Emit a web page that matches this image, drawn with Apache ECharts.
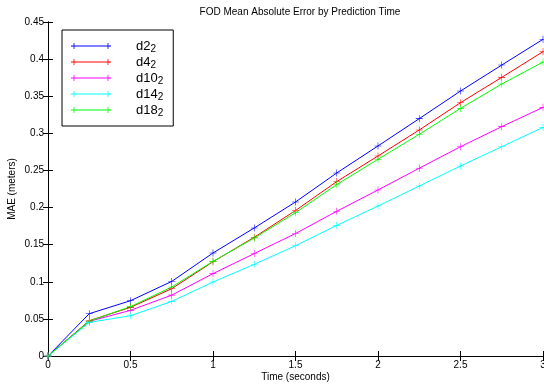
<!DOCTYPE html>
<html><head><meta charset="utf-8">
<script src="https://cdn.jsdelivr.net/npm/echarts@6/dist/echarts.min.js"></script>
<style>html,body{margin:0;padding:0;background:#fff}#c{width:544px;height:387px}</style>
</head><body><div id="c"></div>
<script>
const times = [0, 0.25, 0.5, 0.75, 1, 1.25, 1.5, 1.75, 2, 2.25, 2.5, 2.75, 3];
const seriesNames = ['d2', 'd4', 'd10', 'd14', 'd18'];
const d2  = [0, 0.057, 0.0745, 0.1005, 0.1388, 0.1725, 0.2075, 0.2466, 0.283, 0.3198, 0.357, 0.392, 0.4267];
const d4  = [0, 0.0476, 0.0655, 0.0907, 0.127, 0.16, 0.196, 0.235, 0.2695, 0.3045, 0.3413, 0.3754, 0.41];
const d10 = [0, 0.0467, 0.0615, 0.082, 0.111, 0.138, 0.165, 0.195, 0.2237, 0.253, 0.282, 0.309, 0.335];
const d14 = [0, 0.0453, 0.0543, 0.0736, 0.0997, 0.1235, 0.1486, 0.176, 0.202, 0.229, 0.256, 0.282, 0.308];
const d18 = [0, 0.047, 0.0665, 0.093, 0.1275, 0.159, 0.193, 0.231, 0.265, 0.2987, 0.3336, 0.3665, 0.396];
const xTicks = [0, 0.5, 1, 1.5, 2, 2.5, 3];
const yTicks = [0, 0.05, 0.1, 0.15, 0.2, 0.25, 0.3, 0.35, 0.4, 0.45];

const values = [d2, d4, d10, d14, d18];
const colors = ['#0000ff', '#ff0000', '#ff00ff', '#00ffff', '#00ff00'];
const plus = 'path://M4.6,0 H5.4 V4.6 H10 V5.4 H5.4 V10 H4.6 V5.4 H0 V4.6 H4.6 Z';
const legendIcon = 'path://M0,3.6 H40 V4.4 H0 Z M2.6,1 H3.4 V7 H2.6 Z M36.6,1 H37.4 V7 H36.6 Z M0,0 H0.01 V8 H0 Z M39.99,0 H40 V8 H39.99 Z';
const font = 'Liberation Sans';

const chart = echarts.init(document.getElementById('c'), null, {renderer: 'canvas'});
const axisCommon = {
  axisLine: {show: true, lineStyle: {color: '#000', width: 1}},
  axisTick: {show: true, inside: true, length: 5, lineStyle: {color: '#000'}},
  splitLine: {show: false},
  axisLabel: {color: '#000', fontSize: 10, fontFamily: font}
};
chart.setOption({
  animation: false,
  backgroundColor: '#fff',
  title: {text: 'FOD Mean Absolute Error by Prediction Time', left: 295, top: 2, textAlign: 'center',
    textStyle: {fontSize: 10, fontWeight: 'normal', color: '#000', fontFamily: font}},
  grid: {left: 48, right: 1, top: 22, bottom: 31, containLabel: false, outerBoundsMode: 'none'},
  xAxis: [
    Object.assign({type: 'value', min: xTicks[0], max: xTicks[xTicks.length-1], interval: 0.5,
      name: 'Time (seconds)', nameLocation: 'middle', nameGap: 16, nameMoveOverlap: false,
      nameTextStyle: {fontSize: 10, color: '#000', fontFamily: font}}, axisCommon,
      {axisLabel: Object.assign({}, axisCommon.axisLabel, {margin: 4})}),
    Object.assign({type: 'value', position: 'top', min: xTicks[0], max: xTicks[xTicks.length-1], interval: 0.5}, axisCommon,
      {axisLabel: {show: false}})
  ],
  yAxis: [
    Object.assign({type: 'value', min: yTicks[0], max: yTicks[yTicks.length-1], interval: 0.05,
      name: 'MAE (meters)', nameLocation: 'middle', nameGap: 31, nameRotate: 90, nameMoveOverlap: false,
      nameTextStyle: {fontSize: 10, color: '#000', fontFamily: font}}, axisCommon,
      {axisLabel: Object.assign({}, axisCommon.axisLabel, {margin: 4})}),
    Object.assign({type: 'value', position: 'right', min: yTicks[0], max: yTicks[yTicks.length-1], interval: 0.05}, axisCommon,
      {axisLabel: {show: false}})
  ],
  legend: {
    orient: 'vertical', left: 62, top: 30,
    backgroundColor: '#fff', borderColor: '#000', borderWidth: 1, borderRadius: 0,
    padding: [8, 10, 8, 9], itemGap: 0, itemWidth: 40, itemHeight: 8,
    icon: legendIcon, symbolKeepAspect: false,
    data: seriesNames,
    formatter: n => '{a|' + n + '}{s|2}',
    textStyle: {
      rich: {
        a: {fontSize: 13, fontFamily: font, color: '#000', padding: [0, 0, 0, 20], height: 12, lineHeight: 12},
        s: {fontSize: 10, fontFamily: font, color: '#000', padding: [6, 0, 0, 0], lineHeight: 10}
      }
    }
  },
  series: seriesNames.map((n, i) => ({
    name: n, type: 'line', xAxisIndex: 0, yAxisIndex: 0,
    data: times.map((t, j) => [t, values[i][j]]),
    symbol: plus, symbolSize: 7, showSymbol: true,
    itemStyle: {color: colors[i]},
    lineStyle: {color: colors[i], width: 1},
    clip: false
  }))
});
</script></body></html>
